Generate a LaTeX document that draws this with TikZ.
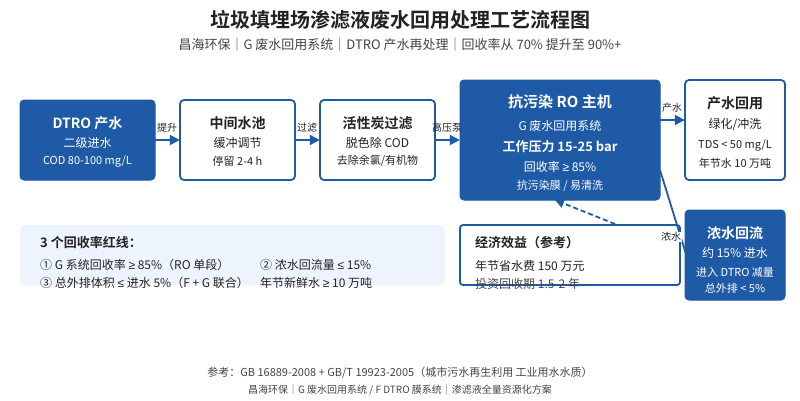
\documentclass[tikz,border=0pt]{standalone}
\usepackage{fontspec}
\setmainfont{Noto Sans CJK SC}[BoldFont={Noto Sans CJK SC Bold}]
\newfontfamily\lat{Liberation Sans}
\usetikzlibrary{arrows.meta}
\definecolor{mblue}{HTML}{1F5AA6}
\definecolor{ink}{HTML}{222222}
\definecolor{sub}{HTML}{444444}
\definecolor{lightbg}{HTML}{EEF4FD}
\newcommand{\myge}{{\lat ≥}}
\newcommand{\myle}{{\lat ≤}}
\tikzset{
  fillbox/.style={draw=mblue,fill=mblue,rounded corners=4pt,line width=1pt},
  linebox/.style={draw=mblue,fill=white,rounded corners=4pt,line width=1.8pt},
  flow/.style={draw=mblue,line width=2pt,-{Triangle[length=10pt,width=10pt]}},
  lbl/.style={font=\fontsize{10}{12}\selectfont,text=ink,inner sep=1pt},
  wt/.style={text=white,inner sep=0pt},
  bt/.style={text=ink,inner sep=0pt},
}
\begin{document}
\begin{tikzpicture}[x=1pt,y=-1pt]
\useasboundingbox (0,0) rectangle (800,400);
% title
\node[bt,font=\fontsize{20}{24}\selectfont\bfseries] (title) at (400,20) {垃圾填埋场渗滤液废水回用处理工艺流程图};
\node[inner sep=0pt,text=sub,font=\fontsize{13}{15}\selectfont] (subt) at (400,45) {昌海环保｜G 废水回用系统｜DTRO 产水再处理｜回收率从 70\% 提升至 90\%+};
% boxes
\path[fillbox] (20,100) rectangle (155,180);
\node[minimum width=135pt,minimum height=80pt,inner sep=0pt] (dtro) at (87.5,140) {};
\path[linebox] (180,100) rectangle (295,180);
\node[minimum width=115pt,minimum height=80pt,inner sep=0pt] (pool) at (237.5,140) {};
\path[linebox] (320,100) rectangle (435,180);
\node[minimum width=115pt,minimum height=80pt,inner sep=0pt] (carbon) at (377.5,140) {};
\path[fillbox] (460,80) rectangle (660,200);
\node[minimum width=200pt,minimum height=120pt,inner sep=0pt] (ro) at (560,140) {};
\path[linebox] (685,80) rectangle (785,180);
\node[minimum width=100pt,minimum height=100pt,inner sep=0pt] (reuse) at (735,130) {};
% lower boxes
\path[fill=lightbg,rounded corners=4pt] (20,225) rectangle (445,285);
\node[minimum width=425pt,minimum height=60pt,inner sep=0pt] (red) at (232.5,255) {};
\path[linebox,rounded corners=3pt] (460,225) rectangle (680,285);
\node[minimum width=220pt,minimum height=60pt,inner sep=0pt] (econ) at (570,255) {};
% connectors
\draw[flow] (dtro.east) -- (pool.west);
\node[lbl] at (167,128) {提升};
\draw[flow] (pool.east) -- (carbon.west);
\node[lbl] at (307,128) {过滤};
\draw[flow] (carbon.east) -- (ro.west);
\node[lbl] at (447,128) {高压泵};
\coordinate (roout) at (660,120);
\draw[flow] (roout) -- (reuse.west |- roout);
\node[lbl] at (672,108) {产水};
\coordinate (rocon) at (660,170);
\coordinate (conin) at (686,254);
\draw[draw=mblue,line width=1.8pt] (rocon) -- (conin);
\coordinate (dashs) at (615,224);
\coordinate (dashe) at (555,200);
\draw[draw=mblue,line width=1.8pt,dashed,dash pattern=on 5pt off 3pt,-{Triangle[length=9pt,width=9pt]}] (dashs) -- (dashe);
\path[fillbox] (685,210) rectangle (785,300);
\node[minimum width=100pt,minimum height=90pt,inner sep=0pt] (conc) at (735,255) {};
\node[lbl,fill=white,inner sep=0.5pt] at (671,237) {浓水};
% texts in boxes
\node[wt,font=\fontsize{14}{16}\selectfont\bfseries] at (87.5,123) {DTRO 产水};
\node[wt,font=\fontsize{12}{14}\selectfont] at (87.5,143) {二级进水};
\node[wt,font=\fontsize{11}{13}\selectfont] at (87.5,162) {COD 80-100 mg/L};
\node[bt,font=\fontsize{14}{16}\selectfont\bfseries] at (237.5,123) {中间水池};
\node[bt,font=\fontsize{12}{14}\selectfont] at (237.5,143) {缓冲调节};
\node[bt,font=\fontsize{11}{13}\selectfont] at (237.5,161) {停留 2-4 h};
\node[bt,font=\fontsize{14}{16}\selectfont\bfseries] at (377.5,123) {活性炭过滤};
\node[bt,font=\fontsize{12}{14}\selectfont] at (377.5,143) {脱色除 COD};
\node[bt,font=\fontsize{11}{13}\selectfont] at (377.5,161) {去除余氯/有机物};
\node[wt,font=\fontsize{15}{17}\selectfont\bfseries] at (560,102) {抗污染 RO 主机};
\node[wt,font=\fontsize{12}{14}\selectfont] at (560,126) {G 废水回用系统};
\node[wt,font=\fontsize{13}{15}\selectfont\bfseries] at (560,147) {工作压力 15-25 bar};
\node[wt,font=\fontsize{12}{14}\selectfont] at (560,167) {回收率 \myge{} 85\%};
\node[wt,font=\fontsize{11}{13}\selectfont] at (560,186) {抗污染膜 / 易清洗};
\node[bt,font=\fontsize{14}{16}\selectfont\bfseries] at (735,103) {产水回用};
\node[bt,font=\fontsize{12}{14}\selectfont] at (735,125) {绿化/冲洗};
\node[bt,font=\fontsize{11}{13}\selectfont] at (735,146) {TDS < 50 mg/L};
\node[bt,font=\fontsize{11}{13}\selectfont] at (735,163) {年节水 10 万吨};
\node[wt,font=\fontsize{14}{16}\selectfont\bfseries] at (735,233) {浓水回流};
\node[wt,font=\fontsize{12}{14}\selectfont] at (735,253) {约 15\% 进水};
\node[wt,font=\fontsize{11}{13}\selectfont] at (735,272) {进入 DTRO 减量};
\node[wt,font=\fontsize{11}{13}\selectfont] at (735,288) {总外排 < 5\%};
% red line texts
\node[bt,anchor=west,font=\fontsize{13}{15}\selectfont\bfseries] at (40,243) {3 个回收率红线：};
\node[bt,anchor=west,font=\fontsize{12}{14}\selectfont] at (40,265) {① G 系统回收率 \myge{} 85\%（RO 单段）};
\node[bt,anchor=west,font=\fontsize{12}{14}\selectfont] at (260,265) {② 浓水回流量 \myle{} 15\%};
\node[bt,anchor=west,font=\fontsize{12}{14}\selectfont] at (40,283) {③ 总外排体积 \myle{} 进水 5\%（F + G 联合）};
\node[bt,anchor=west,font=\fontsize{12}{14}\selectfont] at (260,283) {年节新鲜水 \myge{} 10 万吨};
% econ texts
\node[bt,anchor=west,font=\fontsize{13}{15}\selectfont\bfseries] at (475,243) {经济效益（参考）};
\node[bt,anchor=west,font=\fontsize{12}{14}\selectfont] at (475,266) {年节省水费 150 万元};
\node[bt,anchor=west,font=\fontsize{12}{14}\selectfont,text=sub] at (475,284) {投资回收期 1.5-2 年};
% footer
\node[inner sep=0pt,text=sub,font=\fontsize{11}{13}\selectfont] (foot1) at (400,373) {参考：GB 16889-2008 + GB/T 19923-2005（城市污水再生利用 工业用水水质）};
\node[inner sep=0pt,text=sub,font=\fontsize{10}{12}\selectfont] (foot2) at (400,390) {昌海环保｜G 废水回用系统 / F DTRO 膜系统｜渗滤液全量资源化方案};
\end{tikzpicture}
\end{document}
